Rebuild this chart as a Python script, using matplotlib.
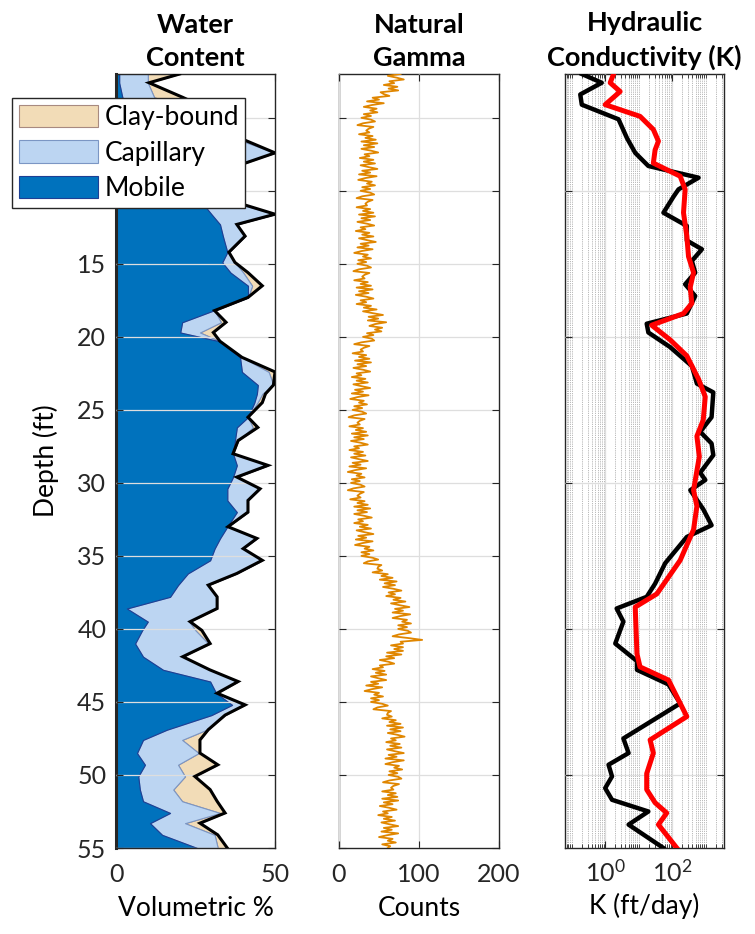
import numpy as np
import matplotlib
matplotlib.use("Agg")
import matplotlib.pyplot as plt
from matplotlib.ticker import LogLocator, NullFormatter, FixedLocator

plt.rcParams['font.family'] = ['Lato', 'DejaVu Sans']
plt.rcParams['mathtext.fontset'] = 'custom'
plt.rcParams['mathtext.rm'] = 'Lato'
plt.rcParams['mathtext.it'] = 'Lato:italic'
plt.rcParams['mathtext.bf'] = 'Lato:bold'

# ---- water content (volumetric %) ----
wc_depth = [2.0, 2.6, 3.6, 4.5, 5.4, 6.3, 7.4, 8.3, 9.2, 10.1, 10.8, 11.6, 12.3, 13.1, 14.2,
            14.9, 15.6, 16.5, 17.3, 18.2, 19.0, 19.7, 20.3, 21.4, 22.4, 23.3, 23.9, 24.5, 25.5,
            26.2, 27.1, 28.0, 28.8, 29.6, 30.4, 31.2, 32.0, 33.0, 33.8, 34.5, 35.3, 36.2, 37.0,
            37.8, 38.6, 39.5, 40.1, 41.0, 41.9, 42.8, 43.6, 44.4, 45.2, 45.9, 46.9, 47.6, 48.5,
            49.3, 50.1, 51.0, 51.8, 52.6, 53.3, 54.1, 55.0]
mobile = [1, 1, 2, 6, 10, 14, 18, 20, 23, 25, 27, 30, 32.7, 33.6, 35,
          33.4, 36, 41.5, 41.5, 30.6, 20.8, 20.2, 32.5, 39, 39.6, 44.6, 44.3, 43.5, 41.5,
          38, 37.4, 36.8, 38, 36.8, 35, 35, 38, 35, 32.7, 31, 29.6, 22.6, 19.5,
          17, 3.4, 10, 8.2, 6, 8.5, 14.8, 29.6, 31.5, 36.5, 30, 16, 8.5, 6.6,
          9.1, 7, 7.5, 8.5, 17, 10.7, 14.5, 25.5]
capillary = [9, 9, 10, 20, 23, 22, 32, 16, 11, 10, 10, 20, 5.3, 7, 0.5,
             4, 4, 1.3, 0, 0.4, 12.2, 6.2, 0.2, 0.6, 8.4, 4.9, 1.7, 1, 0,
             5, 1, 0, 9.8, 1.2, 10.3, 6.5, 3.5, 0.2, 11.6, 9, 16.4, 15.4, 9.5,
             14.5, 28.1, 13, 16.8, 23, 12.5, 14.7, 8.8, 0.3, 3.5, 4.3, 12.5, 12.3, 19.4,
             10.4, 14.7, 10.5, 12.3, 15.7, 11, 16.5, 6.5]
clay_bound = [10, 0.4, 9, 4, 3, 2, 0, 2, 2, 2, 1, 0, 0, 0, 0,
              0, 1.5, 3.2, 0, 0, 1.6, 4.2, 0, 0, 2, 0, 1, 1.5, 0,
              1.6, 0, 0, 0, 0, 0, 0, 0, 0, 0, 0, 0, 0, 0,
              0.3, 0.3, 0.3, 2, 0.6, 0, 0, 0, 0, 0.6, 0, 0.5, 5.6, 0.4,
              12.5, 3.1, 11.6, 11, 1.6, 4.7, 1, 3]

# ---- natural gamma (counts), 1/8 ft steps from 2 to 55 ft ----
gamma = [77, 61, 72, 81, 63, 69, 56, 73,  62, 74, 52, 56, 63, 42, 50, 35,
         56, 41, 31, 47, 39, 48, 31, 40,  28, 40, 45, 30, 23, 43, 37, 34,
         38, 25, 42, 33, 46, 28, 48, 31,  44, 28, 40, 49, 32, 38, 26, 43,
         31, 45, 27, 37, 48, 29, 39, 25,  47, 33, 24, 41, 35, 45, 29, 39,
         27, 39, 44, 29, 22, 42, 36, 33,  35, 22, 39, 30, 43, 25, 45, 28,
         39, 23, 35, 44, 27, 33, 21, 38,  29, 43, 25, 35, 46, 27, 37, 23,
         42, 28, 19, 36, 30, 40, 24, 34,  23, 35, 40, 25, 18, 38, 32, 29,
         32, 19, 36, 27, 40, 22, 42, 25,  37, 21, 34, 43, 27, 34, 22, 40,
         31, 47, 30, 42, 55, 37, 49, 36,  59, 45, 38, 54, 45, 53, 35, 43,
         30, 41, 44, 28, 19, 38, 31, 27,  30, 17, 34, 25, 38, 20, 40, 23,
         34, 18, 30, 39, 22, 28, 16, 33,  22, 36, 18, 28, 39, 20, 30, 16,
         37, 23, 14, 31, 25, 35, 19, 29,  17, 29, 34, 19, 12, 32, 26, 23,
         26, 13, 30, 21, 34, 16, 36, 19,  31, 15, 27, 36, 19, 25, 13, 30,
         19, 33, 15, 25, 36, 17, 27, 13,  34, 20, 11, 28, 22, 32, 16, 26,
         15, 27, 32, 18, 11, 31, 26, 23,  27, 14, 32, 23, 36, 19, 39, 23,
         35, 19, 31, 41, 24, 30, 19, 36,  26, 40, 22, 32, 43, 24, 34, 21,
         42, 29, 20, 38, 32, 43, 28, 38,  28, 42, 49, 36, 31, 53, 49, 48,
         54, 42, 61, 53, 67, 51, 72, 57,  70, 55, 68, 78, 62, 70, 59, 77,
         68, 83, 65, 76, 88, 70, 80, 67,  89, 76, 67, 85, 79, 90, 74, 85,
         74, 86, 90, 75, 67, 87, 104, 77,  80, 65, 80, 69, 80, 60, 78, 59,
         69, 51, 62, 69, 51, 55, 42, 57,  46, 59, 40, 49, 59, 40, 49, 34,
         54, 41, 32, 50, 44, 55, 40, 50,  40, 54, 61, 48, 43, 65, 61, 60,
         66, 54, 71, 63, 77, 60, 80, 64,  77, 61, 73, 82, 65, 71, 59, 76,
         64, 78, 60, 70, 81, 62, 72, 58,  81, 67, 58, 75, 69, 79, 63, 73,
         62, 74, 78, 63, 55, 75, 68, 65,  68, 54, 71, 61, 73, 54, 74, 56,
         67, 51, 63, 72, 55, 61, 49, 66,  56, 70, 53, 63, 74, 56, 66, 53,
         74, 60, 50, 67, 61, 71, 54, 64,  61]
gamma_depth = np.linspace(2, 55, len(gamma))

# ---- hydraulic conductivity (ft/day) ----
k_obs_depth = [2.0, 2.6, 3.4, 4.1, 5.1, 6.4, 7.4, 8.3, 9.1, 9.9, 10.4, 11.5, 12.4, 13.4, 14.0,
               14.8, 15.6, 16.4, 17.2, 18.4, 19.1, 19.7, 20.7, 22.0, 23.2, 23.8, 25.5, 26.5,
               27.3, 28.1, 29.3, 29.8, 30.5, 31.8, 32.9, 33.7, 35.5, 36.9, 37.8, 38.6, 39.5,
               41.0, 42.2, 42.8, 43.8, 45.1, 47.5, 48.5, 49.3, 50.1, 50.9, 51.7, 52.5, 53.4, 55.0]
k_obs = [0.20, 0.79, 0.18, 0.20, 2.5, 4.5, 7.9, 19.5, 617, 155, 110, 55, 275, 275, 776,
         389, 490, 245, 490, 275, 17.4, 19.5, 87, 389, 550, 1700, 1510, 690,
         1510, 1700, 690, 980, 350, 850, 1510, 275, 62, 31, 17.4, 2.2, 3.5,
         2.0, 8.9, 8.9, 78, 174, 3.5, 5.0, 1.26, 1.6, 1.0, 1.6, 19.5, 5.0, 55]
k_model_depth = [2.0, 2.6, 3.2, 4.1, 4.9, 5.8, 6.6, 7.2, 8.1, 9.0, 9.9, 11.5, 13.1, 14.5, 15.6,
                 16.6, 17.7, 18.4, 19.2, 20.2, 21.3, 22.9, 24.1, 25.7, 26.8, 28.2, 30.5, 31.6,
                 33.2, 35.3, 37.6, 38.5, 41.7, 42.6, 43.5, 46.0, 47.6, 48.5, 49.9, 51.0, 51.9,
                 52.6, 53.4, 55.0]
k_model = [1.78, 1.41, 2.8, 1.0, 11, 27.5, 39, 31, 27.5, 174, 245, 219, 275, 309, 437,
           347, 389, 219, 24.5, 87, 275, 617, 977, 851, 550, 650, 437, 550,
           437, 174, 35, 7.9, 8.9, 11, 78, 275, 22, 27.5, 17.4, 17.4, 31,
           69, 39, 138]

depth_ticks = [5, 10, 15, 20, 25, 30, 35, 40, 45, 50, 55]
# 5 and 10 sit under the legend box, so they are left blank
depth_ticklabels = ['', '', '15', '20', '25', '30', '35', '40', '45', '50', '55']

FS_TICK = 18
FS_LAB = 19
FS_TITLE = 19.5
GRID = '#dedede'
SPINE = '#262626'

fig = plt.figure(figsize=(7.55, 9.34), dpi=100)
bottom, height = 86 / 934, 774 / 934
ax1 = fig.add_axes([116 / 755, bottom, 159 / 755, height])
ax2 = fig.add_axes([339 / 755, bottom, 160 / 755, height])
ax3 = fig.add_axes([565 / 755, bottom, 159 / 755, height])


def style(ax):
    for s in ax.spines.values():
        s.set_color(SPINE)
        s.set_linewidth(1.0)
    ax.tick_params(direction='in', top=True, right=True, labelsize=FS_TICK,
                   colors=SPINE, length=5)
    ax.tick_params(axis='x', pad=11)
    ax.tick_params(axis='y', pad=7)
    ax.set_axisbelow(False)
    ax.set_ylim(55, 2)


# water content panel
d = np.array(wc_depth)
m = np.array(mobile)
c = m + np.array(capillary)
t = c + np.array(clay_bound)
ax1.fill_betweenx(d, c, t, facecolor='#f2dcb7', edgecolor='#a88a80', lw=0.8,
                  label='Clay-bound', zorder=2)
ax1.fill_betweenx(d, m, c, facecolor='#bcd5f2', edgecolor='#7b96c4', lw=0.8,
                  label='Capillary', zorder=2)
ax1.fill_betweenx(d, 0, m, facecolor='#0072bd', edgecolor='#1d3f94', lw=0.8,
                  label='Mobile', zorder=2)
ax1.plot(t, d, color='black', lw=2.2, zorder=3, solid_joinstyle='miter')
style(ax1)
ax1.set_xlim(0, 50)
ax1.set_xticks([0, 50])
ax1.set_yticks(depth_ticks)
ax1.set_yticklabels(depth_ticklabels)
ax1.grid(axis='y', color=GRID, lw=0.9, zorder=1)
ax1.spines['left'].set_linewidth(2.2)
ax1.set_title('Water\nContent', fontsize=FS_TITLE, fontweight='bold', pad=6, linespacing=1.45)
ax1.set_xlabel('Volumetric %', fontsize=FS_LAB, labelpad=7)
ax1.set_ylabel('Depth (ft)', fontsize=FS_LAB, labelpad=13)

# natural gamma panel
ax2.plot(gamma, gamma_depth, color='#e08600', lw=1.3, zorder=3)
style(ax2)
ax2.set_xlim(0, 200)
ax2.set_xticks([0, 100, 200])
ax2.set_yticks(depth_ticks)
ax2.set_yticklabels([])
ax2.grid(color=GRID, lw=0.9, zorder=1)
ax2.set_title('Natural\nGamma', fontsize=FS_TITLE, fontweight='bold', pad=6, linespacing=1.45)
ax2.set_xlabel('Counts', fontsize=FS_LAB, labelpad=7)

# hydraulic conductivity panel
ax3.set_xscale('log')
ax3.plot(k_obs, k_obs_depth, color='black', lw=3.2, zorder=3)
ax3.plot(k_model, k_model_depth, color='#ff0000', lw=3.6, zorder=4)
style(ax3)
ax3.set_xlim(0.063, 3550)
ax3.xaxis.set_major_locator(FixedLocator([1, 100]))
ax3.set_xticklabels(['$10^{0}$', '$10^{2}$'])
ax3.xaxis.set_minor_locator(LogLocator(base=10, subs=np.arange(1, 10), numticks=100))
ax3.xaxis.set_minor_formatter(NullFormatter())
ax3.tick_params(which='minor', direction='in', top=True, length=3, colors=SPINE)
ax3.tick_params(axis='x', pad=8)
ax3.set_yticks(np.arange(10, 56, 10))
ax3.set_yticklabels([])
ax3.grid(which='major', color=GRID, lw=0.9, zorder=1)
ax3.grid(which='minor', axis='x', color='#a0a0a0', lw=0.6, ls=(0, (1, 1.2)), zorder=1)
ax3.set_title('Hydraulic\nConductivity (K)', fontsize=FS_TITLE, fontweight='bold', pad=6,
              linespacing=1.45)
ax3.set_xlabel('K (ft/day)', fontsize=FS_LAB, labelpad=5)

h, l = ax1.get_legend_handles_labels()
leg = fig.legend(h, l, loc='upper left', bbox_to_anchor=(12 / 755, 1 - 98 / 934),
                 borderaxespad=0, fontsize=FS_LAB, frameon=True, fancybox=False,
                 framealpha=1, edgecolor=SPINE, handlelength=3.0, handleheight=0.95,
                 handletextpad=0.25, labelspacing=0.38, borderpad=0.25)
leg.get_frame().set_linewidth(1.0)

fig.savefig('out.png', dpi=100, facecolor='white')
